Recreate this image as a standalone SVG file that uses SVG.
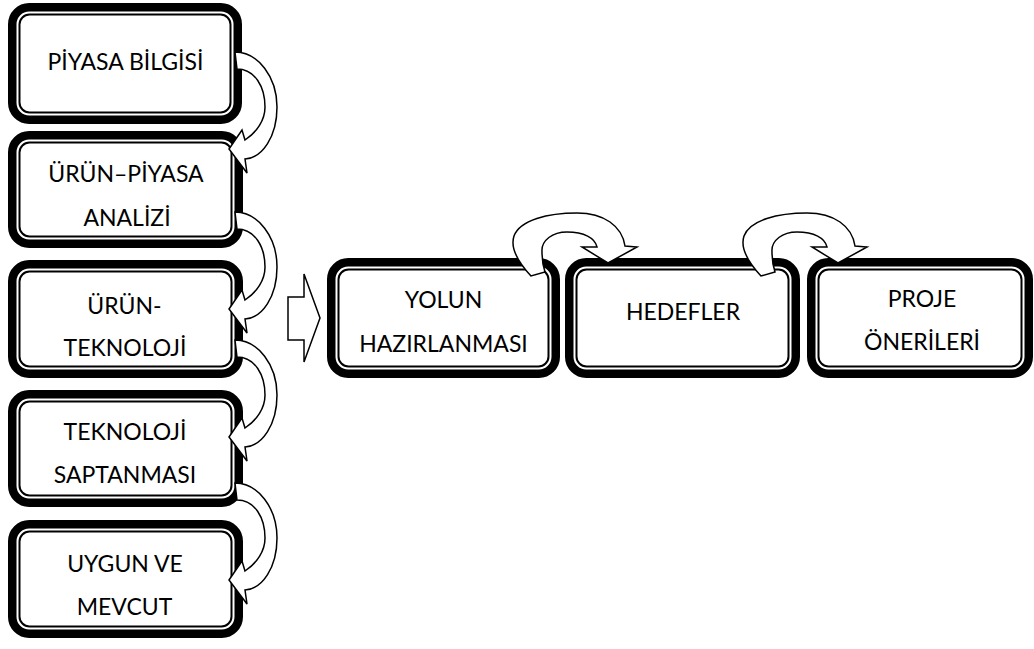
<svg xmlns="http://www.w3.org/2000/svg" width="1034" height="649" viewBox="0 0 1034 649">
<style>
.outer{fill:#fff;stroke:#000;stroke-width:8.5}
.inner{fill:#fff;stroke:#000;stroke-width:2}
.lbl{font-family:Lato,"Liberation Sans",sans-serif;font-size:23px;text-anchor:middle;fill:#000}
.arr{fill:#fff;stroke:#000;stroke-width:1.5;stroke-linejoin:miter}
</style>
<rect width="1034" height="649" fill="#fff"/>
<g id="n1">
<rect class="outer" x="12.25" y="7.25" width="225.5" height="112.5" rx="17"/>
<rect class="inner" x="19.5" y="14.5" width="211" height="98" rx="10"/>
<text class="lbl" x="125.5" y="70">PİYASA BİLGİSİ</text>
</g>
<g id="n2">
<rect class="outer" x="12.25" y="135.25" width="226.5" height="108.5" rx="17"/>
<rect class="inner" x="19.5" y="142.5" width="212" height="94" rx="10"/>
<text class="lbl" x="126" y="182">ÜRÜN–PİYASA</text>
<text class="lbl" x="127" y="226">ANALİZİ</text>
</g>
<g id="n3">
<rect class="outer" x="12.25" y="264.25" width="226.5" height="109.5" rx="17"/>
<rect class="inner" x="19.5" y="271.5" width="212" height="95" rx="10"/>
<text class="lbl" x="124.5" y="314">ÜRÜN-</text>
<text class="lbl" x="125" y="356">TEKNOLOJİ</text>
</g>
<g id="n4">
<rect class="outer" x="12.25" y="394.25" width="226.5" height="108.5" rx="17"/>
<rect class="inner" x="19.5" y="401.5" width="212" height="94" rx="10"/>
<text class="lbl" x="125" y="440">TEKNOLOJİ</text>
<text class="lbl" x="125" y="483">SAPTANMASI</text>
</g>
<g id="n5">
<rect class="outer" x="12.25" y="524.25" width="226.5" height="109.5" rx="17"/>
<rect class="inner" x="19.5" y="531.5" width="212" height="95" rx="10"/>
<text class="lbl" x="125" y="572">UYGUN VE</text>
<text class="lbl" x="124.5" y="615">MEVCUT</text>
</g>
<g id="n6">
<rect class="outer" x="331.25" y="262.25" width="224.5" height="111.5" rx="17"/>
<rect class="inner" x="338.5" y="269.5" width="210" height="97" rx="10"/>
<text class="lbl" x="443.5" y="308">YOLUN</text>
<text class="lbl" x="443.5" y="352">HAZIRLANMASI</text>
</g>
<g id="n7">
<rect class="outer" x="569.25" y="262.25" width="226.5" height="111.5" rx="17"/>
<rect class="inner" x="576.5" y="269.5" width="212" height="97" rx="10"/>
<text class="lbl" x="683" y="320">HEDEFLER</text>
</g>
<g id="n8">
<rect class="outer" x="811.25" y="262.25" width="217.5" height="111.5" rx="17"/>
<rect class="inner" x="818.5" y="269.5" width="203" height="97" rx="10"/>
<text class="lbl" x="922" y="307">PROJE</text>
<text class="lbl" x="922" y="350">ÖNERİLERİ</text>
</g>
<g id="connectors">
<path class="arr" d="M235,52 C258,52 277,77 277,107 C277,137 262,158 245,159 L247,173 L229,149 L242,130 L245,140 C257,132 265,120 265,107 C265,87 255,69 237,69 Z"/>
<path class="arr" d="M235,212 C258,212 277,237 277,267 C277,297 262,318 245,319 L247,333 L229,309 L242,290 L245,300 C257,292 265,280 265,267 C265,247 255,229 237,229 Z"/>
<path class="arr" d="M235,340 C258,340 277,365 277,395 C277,425 262,446 245,447 L247,461 L229,437 L242,418 L245,428 C257,420 265,408 265,395 C265,375 255,357 237,357 Z"/>
<path class="arr" d="M235,483 C258,483 277,508 277,538 C277,568 262,589 245,590 L247,604 L229,580 L242,561 L245,571 C257,563 265,551 265,538 C265,518 255,500 237,500 Z"/>
<path class="arr" d="M531,276 C518,262 510,248 514,236 C520,220 548,213 577,213 C604,213 622,226 625,246 L637,247 L608,263 L582,247 L597,247 C595,238 584,232 567,232 C553,232 541,240 542,252 C542,260 543,266 545,272 Z"/>
<path class="arr" d="M761,276 C748,262 740,248 744,236 C750,220 778,213 807,213 C834,213 852,226 855,246 L867,247 L838,263 L812,247 L827,247 C825,238 814,232 797,232 C783,232 771,240 772,252 C772,260 773,266 775,272 Z"/>
<path class="arr" d="M288,297 L304,297 L304,274 L320,318 L304,362 L304,340 L288,340 Z"/>
</g>
</svg>
